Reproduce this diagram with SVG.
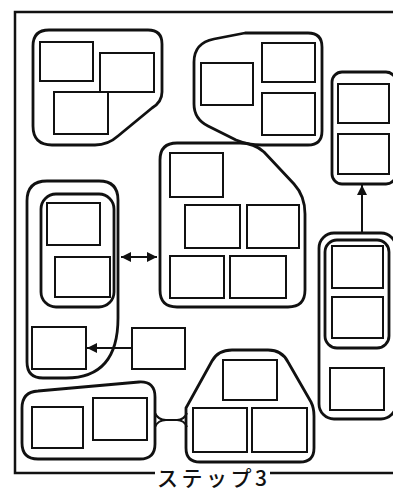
<svg xmlns="http://www.w3.org/2000/svg" width="393" height="491" viewBox="0 0 393 491">
<style>
.frame{fill:none;stroke:#111;stroke-width:2.5}
.grp{fill:none;stroke:#111;stroke-width:2.8;stroke-linejoin:round}
.box{fill:#fff;stroke:#111;stroke-width:2}
.con{fill:none;stroke:#111;stroke-width:2}
.lbl{font-family:"Noto Sans CJK JP","Noto Sans",sans-serif;font-size:21px;font-weight:500;fill:#111}
</style>
<defs>
<marker id="ah" viewBox="0 0 10 10" refX="10" refY="5" markerWidth="11" markerHeight="10" markerUnits="userSpaceOnUse" orient="auto-start-reverse">
<path d="M0,0 L10,5 L0,10 Z" fill="#111"/>
</marker>
</defs>
<rect width="393" height="491" fill="#fff"/>
<g id="frame">
<path class="frame" d="M393,12 L15,12 L15,473 L155,473"/>
<path class="frame" d="M270,473 L393,473"/>
<text class="lbl" x="157" y="486" textLength="110" lengthAdjust="spacing">ステップ3</text>
</g>
<g id="group-top-left">
<path class="grp" d="M33,46 Q33,30 49,30 L148,30 Q162,30 162,44 L162,92 Q162,102 152,108 L118,136 Q108,145 95,145 L52,145 Q33,145 33,126 Z"/>
<rect class="box" x="40" y="42" width="53" height="39"/>
<rect class="box" x="100" y="53" width="54" height="39"/>
<rect class="box" x="54" y="92" width="54" height="42"/>
</g>
<g id="group-top-middle">
<path class="grp" d="M194,62 Q194,43 214,39 L245,33 L308,33 Q322,33 322,47 L322,131 Q322,145 308,145 L262,145 Q248,145 236,140 L208,126 Q194,119 194,104 Z"/>
<rect class="box" x="201" y="63" width="52" height="42"/>
<rect class="box" x="262" y="43" width="53" height="39"/>
<rect class="box" x="262" y="93" width="53" height="42"/>
</g>
<g id="group-top-right">
<rect class="grp" x="332" y="72" width="64" height="112" rx="10"/>
<rect class="box" x="338" y="84" width="51" height="39"/>
<rect class="box" x="338" y="134" width="51" height="40"/>
</g>
<g id="group-center">
<path class="grp" d="M160,160 Q160,143 177,143 L240,143 Q254,143 264,152 L294,184 Q305,196 305,214 L305,290 Q305,307 288,307 L177,307 Q160,307 160,290 Z"/>
<rect class="box" x="170" y="153" width="53" height="44"/>
<rect class="box" x="185" y="205" width="55" height="43"/>
<rect class="box" x="247" y="205" width="52" height="43"/>
<rect class="box" x="170" y="256" width="54" height="42"/>
<rect class="box" x="230" y="256" width="56" height="42"/>
</g>
<g id="group-left">
<path class="grp" d="M27,201 Q27,181 47,181 L99,181 Q118,181 118,200 L118,318 Q118,378 66,378 L43,378 Q27,378 27,362 Z"/>
<rect class="grp" x="41" y="194" width="73" height="113" rx="15"/>
<rect class="box" x="47" y="203" width="53" height="42"/>
<rect class="box" x="55" y="257" width="55" height="40"/>
<rect class="box" x="32" y="327" width="54" height="42"/>
</g>
<g id="node-loose">
<rect class="box" x="132" y="328" width="53" height="41"/>
</g>
<g id="group-right">
<rect class="grp" x="319" y="233" width="77" height="186" rx="15"/>
<rect class="grp" x="325" y="240" width="64" height="108" rx="12"/>
<rect class="box" x="332" y="246" width="51" height="42"/>
<rect class="box" x="332" y="297" width="51" height="41"/>
<rect class="box" x="330" y="368" width="54" height="42"/>
</g>
<g id="group-bottom-left">
<path class="grp" d="M22,408 Q22,392 38,391 L139,382 Q155,381 155,397 L155,444 Q155,459 140,459 L38,459 Q22,459 22,443 Z"/>
<rect class="box" x="32" y="407" width="51" height="41"/>
<rect class="box" x="93" y="398" width="54" height="42"/>
</g>
<g id="group-bottom-center">
<path class="grp" d="M186,408 L212,361 Q218,350 232,350 L268,350 Q282,350 288,362 L311,402 Q314,408 314,416 L314,448 Q314,462 300,462 L200,462 Q186,462 186,448 Z"/>
<rect class="box" x="223" y="360" width="54" height="40"/>
<rect class="box" x="193" y="408" width="54" height="44"/>
<rect class="box" x="252" y="408" width="55" height="44"/>
</g>
<g id="connectors">
<line class="con" x1="121" y1="257" x2="157" y2="257" marker-start="url(#ah)" marker-end="url(#ah)"/>
<line class="con" x1="132" y1="348" x2="87" y2="348" marker-end="url(#ah)"/>
<line class="con" x1="362" y1="233" x2="362" y2="185" marker-end="url(#ah)"/>
<path class="con" d="M155,413 Q158,420 166,420 L177,420 Q184,420 187,413"/>
<path class="con" d="M155,427 Q158,420 166,420 M177,420 Q184,420 187,427"/>
</g>
</svg>
